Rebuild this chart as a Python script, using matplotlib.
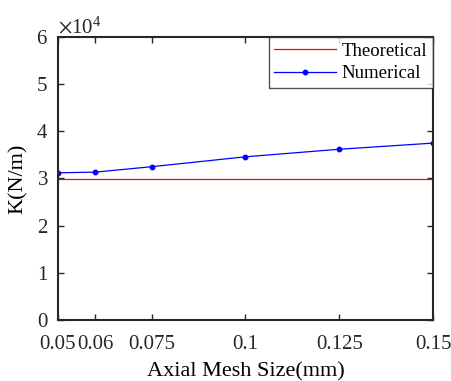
import matplotlib
matplotlib.use("Agg")
import matplotlib.pyplot as plt
from matplotlib.ticker import ScalarFormatter

plt.rcParams['font.family'] = ['Liberation Serif', 'DejaVu Serif']
plt.rcParams['mathtext.fontset'] = 'stix'

mesh_size = [0.05, 0.06, 0.075, 0.1, 0.125, 0.15]
theoretical = [29800, 29800, 29800, 29800, 29800, 29800]
numerical = [31200, 31350, 32500, 34600, 36200, 37500]
xticks = [0.05, 0.06, 0.075, 0.1, 0.125, 0.15]
xticklabels = ['0.05', '0.06', '0.075', '0.1', '0.125', '0.15']

fig = plt.figure(figsize=(4.52, 3.81), dpi=100)
ax = fig.add_axes([0.128, 0.160, 0.830, 0.743])

ax.plot(mesh_size, theoretical, color='red', lw=0.9, label='Theoretical')
ax.plot(mesh_size, numerical, color='blue', lw=0.9, marker='o', ms=3.2, label='Numerical')

ax.set_xlim(0.05, 0.15)
ax.set_ylim(0, 60000)
ax.set_xticks(xticks)
ax.set_xticklabels(xticklabels)
ax.set_yticks([0, 10000, 20000, 30000, 40000, 50000, 60000])
fmt = ScalarFormatter(useMathText=True)
fmt.set_powerlimits((0, 0))
ax.yaxis.set_major_formatter(fmt)
ax.yaxis.get_offset_text().set_fontsize(15)

ax.tick_params(direction='in', top=True, right=True, length=4.5, width=1, labelsize=15,
               colors='#262626')
ax.tick_params(axis='x', pad=11)
ax.tick_params(axis='y', pad=7)
for s in ax.spines.values():
    s.set_linewidth(1.5)
    s.set_color('#262626')

ax.set_xlabel('Axial Mesh Size(mm)', fontsize=16, labelpad=6)
ax.set_ylabel('K(N/m)', fontsize=16, labelpad=6)

leg = ax.legend(loc='upper right', fontsize=13.5, frameon=True, fancybox=False,
                edgecolor='#262626', borderaxespad=0.0, handlelength=3.3,
                borderpad=0.3, labelspacing=0.3, handletextpad=0.3)
leg.get_frame().set_linewidth(1.0)

fig.savefig('out.png', dpi=100)
